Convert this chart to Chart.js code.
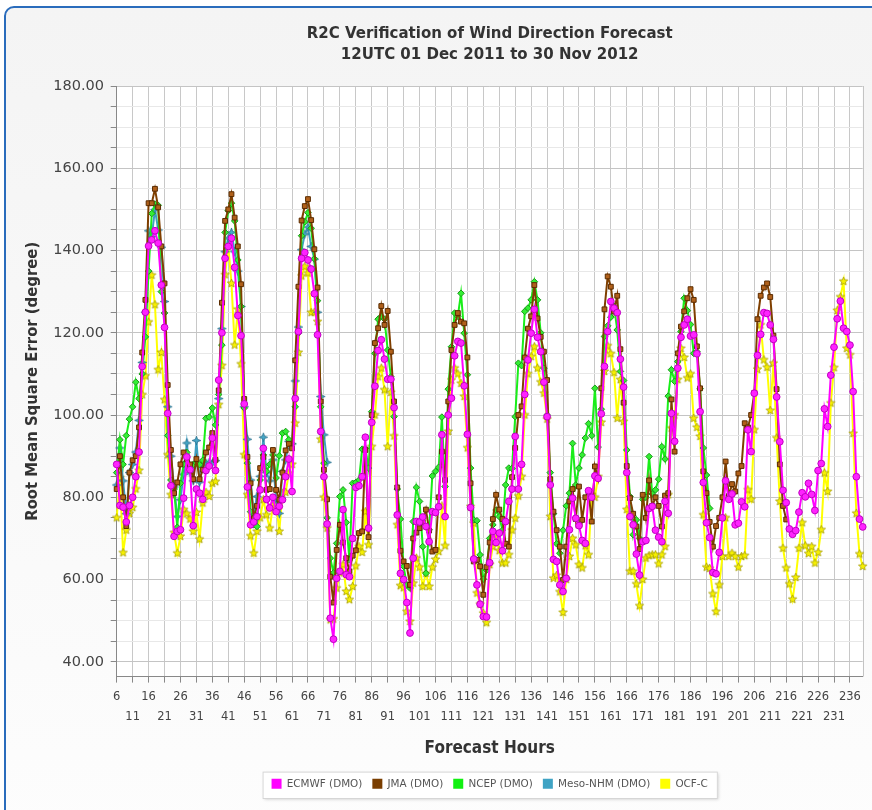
<!DOCTYPE html>
<html>
<head>
<meta charset="utf-8">
<title>R2C Verification of Wind Direction Forecast</title>
<script src="https://cdn.jsdelivr.net/npm/chart.js@4.4.0/dist/chart.umd.min.js"></script>
<style>
    html, body { margin: 0; padding: 0; background: #fff; }
    #wrap { position: relative; width: 872px; height: 810px; overflow: hidden; }
    #frame {
        position: absolute; left: 4px; top: 6px; width: 900px; height: 840px;
        border: 2px solid #2a6cbc; border-radius: 10px;
        background: linear-gradient(#f4f4f4, #fdfdfd);
    }
    #chart { position: absolute; left: 0; top: 0; }
</style>
</head>
<body>
<div id="wrap">
    <div id="frame"></div>
    <canvas id="chart" width="872" height="810"></canvas>
</div>
<script>
// Forecast hours 6..240 (one category per hour)
const hours = Array.from({ length: 235 }, (_, i) => 6 + i);

// Y axis ticks: every 5, labelled every 20
const yTicks = [40, 45, 50, 55, 60, 65, 70, 75, 80, 85, 90, 95, 100, 105, 110, 115, 120,
    125, 130, 135, 140, 145, 150, 155, 160, 165, 170, 175, 180];

// ECMWF (DMO), hours 6..240
const ecmwf = [
    88, 78, 77.6, 74, 78, 80, 85, 91, 111.8, 125,
    141.1, 142.6, 144.8, 141.8, 131.6, 121.3, 100.4, 82.8, 70.5, 71.7,
    72.1, 79.8, 89.8, 86.7, 73.1, 82, 81, 79.5, 86.5, 87.6,
    94.4, 86.5, 108.5, 120, 138.1, 141, 143, 135.9, 124.2, 119.3,
    102.7, 82.5, 73.3, 74, 75.3, 81.8, 91.9, 79.5, 77.4, 80,
    76.5, 77.8, 79.4, 85, 89.3, 81.4, 104, 120.3, 138.1, 139.5,
    137.7, 135.5, 129.5, 119.5, 96, 85, 73.5, 50.6, 45.5, 60.3,
    62, 77, 61.2, 60.7, 70, 82.4, 82.8, 85, 94.6, 72.5,
    98.2, 107, 115.7, 118.3, 113.6, 108.7, 108.7, 101.8, 75.7, 61.5,
    60, 54.4, 47, 65.2, 74.1, 74, 75.2, 72.9, 69.2, 76.5,
    76.3, 77.7, 95.2, 75.3, 100, 104.1, 114.4, 117.9, 117.5, 107.1,
    95.3, 77.5, 65, 58.7, 54, 51, 50.9, 64.1, 71.7, 69,
    71.3, 67, 74.1, 79, 82, 94.8, 82, 88, 105, 113.4,
    119.9, 125.7, 118.9, 115.4, 108, 99.6, 83, 64.9, 64.4, 58.7,
    57.1, 60.3, 72.1, 79.8, 74.9, 73.1, 69.5, 68.8, 81.6, 80,
    85.2, 84.6, 100.3, 111.8, 120.3, 127.6, 126, 124.9, 113.6, 106.8,
    86, 75.3, 73.3, 66.2, 61.1, 69.2, 69.5, 77.3, 77.8, 72,
    70.3, 69.2, 79, 76.1, 100.4, 93.6, 111.4, 118.9, 121.9, 123.3,
    119.2, 119.5, 114.9, 100.8, 83.6, 73.8, 70.2, 61.7, 61.4, 66.6,
    75, 84, 79.5, 80.8, 73.3, 73.7, 78.9, 77.7, 96.4, 91.1,
    105.3, 114.5, 119.6, 124.9, 124.7, 121.9, 118.4, 104.4, 93.5, 81.7,
    78.7, 72.3, 71, 71.9, 76.4, 81.1, 80.1, 83.4, 80.7, 76.8,
    86.5, 88.2, 101.5, 97.2, 109.7, 116.5, 123.4, 127.7, 121.1, 120.3,
    117, 105.7, 85, 74.7, 72.8
];

// JMA (DMO), hours 6..216
const jma = [
    82, 90, 80, 73, 86, 89, 90, 97, 115.2, 128,
    151.5, 151.5, 155, 150.5, 141, 132, 107.3, 91.5, 81, 83.6,
    88, 90.9, 89.3, 88, 84.4, 89.3, 84.4, 86.7, 90.9, 92.1,
    95.6, 89.1, 106, 127.3, 147.2, 150, 153.7, 148, 141, 131.8,
    103.9, 89.8, 83.4, 74.9, 77.9, 87.1, 89.8, 81.8, 82, 91.5,
    81.8, 79.4, 86, 91.4, 93, 91.9, 113.3, 131.2, 147.3, 150.8,
    152.5, 147.4, 140.3, 131, 103.3, 86.7, 79.5, 60.7, 54.4, 67.2,
    73.3, 69, 65.2, 62, 65.8, 67.1, 71.3, 71.7, 91.5, 70.3,
    100, 117.5, 121.1, 126.5, 121.9, 125.3, 115.4, 103.3, 82.4, 67,
    64.4, 63.3, 58.7, 70, 71.4, 72.5, 73.9, 77, 71.9, 66.8,
    67.2, 80, 91.1, 84.2, 103.3, 115.8, 121.9, 124.8, 122.7, 122.3,
    114, 83.4, 64.4, 64.8, 63.2, 56.3, 63, 69, 74.7, 80.6,
    77, 74.7, 68.7, 68, 84.9, 92, 100, 102.1, 114, 121,
    124, 131.6, 123.5, 119, 115.4, 108.5, 84.4, 76.5, 72, 68,
    59.9, 68, 79, 82, 74.7, 82.6, 74.5, 80, 81.4, 74.1,
    87.5, 84.6, 106.5, 125.7, 133.7, 131.2, 125.2, 129, 116, 103,
    87.6, 79.8, 76, 72.9, 67.4, 80.6, 75, 84.1, 77.9, 80,
    77.9, 72.9, 80.4, 81, 103.8, 91.1, 115, 121.5, 125.2, 128.4,
    130.6, 128, 116.7, 106.5, 86.3, 81, 74, 68, 73, 75,
    80, 88.7, 80.3, 83.2, 81.4, 85.8, 87.6, 98, 97, 100,
    105.4, 123.3, 129, 131, 132, 128.7, 119.3, 106.3, 88, 77.9,
    74.6
];

// NCEP (DMO), hours 6..192
const ncep = [
    86, 94, 88, 95, 99, 102, 108, 104, 110, 119,
    135, 149, 151.3, 151, 130, 124.8, 95, 84.2, 82, 72.7,
    83.4, 88, 90.9, 87.5, 88, 88.3, 87.9, 89, 99.2, 99.5,
    101.7, 97.6, 105, 117, 144.4, 149.7, 151.5, 147.2, 137.7, 126.4,
    101.7, 88.3, 76.5, 73.3, 72.9, 84.2, 90.3, 86.3, 88, 90.3,
    84.7, 90.1, 95.6, 96, 94, 93, 102, 119.9, 143.6, 147,
    149.2, 145.4, 138, 127.8, 102, 88.3, 75, 65.2, 61.6, 68.8,
    80.2, 81.8, 73.9, 64.8, 83.4, 83.6, 84.2, 91.7, 91.9, 87.1,
    100.8, 115, 123.3, 124, 123.3, 115.8, 109.3, 99.6, 82, 74.7,
    63.2, 58.7, 57.9, 74.1, 82.4, 79, 68, 61.5, 72.1, 85.2,
    86.3, 87.3, 99.5, 82.6, 106.3, 116.6, 124.8, 124, 129.6, 119.9,
    109.8, 87.1, 74.5, 74.3, 66, 60.1, 62.3, 70, 73.3, 76.9,
    75.3, 72, 83, 87.1, 87, 99.6, 112.6, 112, 125.2, 126,
    128, 132.4, 128, 120, 111.4, 100, 86, 76, 68.7, 66.4,
    72, 77.9, 81, 93.1, 83, 87.1, 90.3, 94.4, 97.9, 95,
    106.5, 92.2, 101.4, 119.1, 121.7, 123.8, 126.4, 120.7, 110.6, 108.4,
    91.5, 80.2, 70.9, 74.5, 70, 79.5, 80, 89.9, 80.8, 81.8,
    84.4, 92.3, 89.3, 104.6, 111, 108.2, 113, 120.3, 128.4, 125.4,
    122, 115, 115.4, 106.4, 92, 85.4, 77.3
];

// Meso-NHM (DMO), hours 6..72
const meso = [
    83, 92, 84, 76, 86, 88, 91, 98.7, 112.8, 125,
    144.8, 143.4, 150, 145, 140.8, 127.6, 102, 90, 82.5, 75.3,
    79.4, 85.6, 93.2, 86, 84, 93.8, 83.7, 87.9, 88.3, 88.5,
    88.3, 88.9, 104, 121, 139.7, 143, 144.4, 139.7, 135, 126.4,
    102, 94.1, 84.2, 76.1, 80.2, 85.1, 94.6, 86, 84, 89.1,
    79.4, 76.1, 86.3, 89.1, 93.6, 93, 108.3, 121.4, 140.2, 144,
    145.7, 141, 137.9, 125, 104.5, 95.2, 88.5
];

// OCF-C, hours 6..240
const ocfc = [
    75, 84.8, 66.5, 72, 76, 77.5, 82, 86.5, 104.9, 109.5,
    122.6, 134, 126.8, 111, 115.2, 103.7, 90.3, 80.6, 71.4, 66.4,
    70.5, 77, 76, 74.7, 71.7, 76.3, 69.8, 78.6, 81.2, 80.2,
    83.4, 83.8, 102.5, 112, 134.1, 141.1, 132, 117, 125.7, 112.4,
    90.3, 80.6, 70.6, 66.4, 71.7, 75, 79.4, 75.7, 72.5, 78,
    78.6, 71.7, 81, 81.2, 85.9, 88, 98, 115.2, 133.8, 136.1,
    134.5, 124.9, 125, 122.7, 94.1, 80, 72.5, 50.2, 50.4, 57.9,
    61.6, 63.6, 57.1, 55.1, 58.3, 63.3, 68, 66.6, 76.5, 68.4,
    92.3, 100, 109.3, 111.4, 106.1, 92.3, 105.5, 94.9, 73.3, 58.5,
    58, 52.2, 49.8, 59.1, 65.2, 63, 58.3, 61.5, 58.3, 63,
    64.9, 66.8, 77.9, 68.2, 96, 108.5, 111.4, 110, 107.7, 104.5,
    92, 77.7, 73.7, 56.7, 54, 51.8, 49.5, 63.6, 68, 70,
    67, 64, 64, 66, 72, 74.9, 80.3, 85, 100, 110,
    114.2, 116.6, 111.4, 108, 105.3, 99, 75.3, 60.3, 61, 57,
    52, 60, 65.6, 70, 68.4, 63.6, 62.8, 68.2, 66, 80.6,
    80, 85, 98.2, 110.6, 116.8, 114.9, 110.3, 99.2, 108.6, 98.4,
    77, 62, 62, 58.9, 53.6, 60, 65.2, 65.8, 66, 66,
    63.8, 66, 68, 80.6, 96.8, 100, 108.6, 116.2, 114, 109,
    110, 99.2, 97, 94.8, 75.7, 63, 62.7, 56.5, 52.2, 58.7,
    65.6, 75, 65.6, 66.4, 65.6, 63, 65.6, 65.8, 81.8, 79.5,
    96.4, 111.1, 121.9, 113.4, 111.6, 101.1, 112.6, 94.4, 79, 67.6,
    62.8, 58.9, 55.2, 60.5, 67.6, 73.8, 68.2, 66.3, 68, 64,
    66.6, 72.1, 85.9, 81.4, 102.9, 111.5, 125.4, 128.7, 132.5, 116.2,
    114.6, 95.5, 76.1, 66.2, 63.2
];

const seriesNames = ['ECMWF (DMO)', 'JMA (DMO)', 'NCEP (DMO)', 'Meso-NHM (DMO)', 'OCF-C'];
const legendColors = ['#ff00ff', '#7a3e00', '#11f011', '#3fa3c4', '#ffff00'];

Chart.defaults.font.family = "'DejaVu Sans', Verdana, sans-serif";
Chart.defaults.color = '#444';

const titleFont = "'DejaVu Sans', Verdana, sans-serif";
const axisTitleFont = "'DejaVu Sans Condensed', 'DejaVu Sans', sans-serif";

// small star shaped markers
function makeStar(points, outer, inner, fill, stroke) {
    const size = Math.ceil(outer * 2 + 2);
    const c = document.createElement('canvas');
    c.width = c.height = size;
    const g = c.getContext('2d');
    g.translate(size / 2, size / 2);
    g.beginPath();
    for (let i = 0; i < points * 2; i++) {
        const r = i % 2 ? inner : outer;
        const a = -Math.PI / 2 + i * Math.PI / points;
        g.lineTo(r * Math.cos(a), r * Math.sin(a));
    }
    g.closePath();
    g.fillStyle = fill;
    g.fill();
    g.strokeStyle = stroke;
    g.lineWidth = 0.8;
    g.stroke();
    return c;
}

const starYellow = makeStar(5, 4.4, 2, '#f6f000', '#a39a00');
const starTeal = makeStar(4, 4.4, 1.6, '#45a8c8', '#2a6e8c');

// white plot area, right edge and the framed legend
const backdrop = {
    id: 'backdrop',
    beforeDraw(chart) {
        const { ctx, chartArea: a, legend } = chart;
        ctx.save();
        ctx.fillStyle = '#ffffff';
        ctx.fillRect(a.left, a.top, a.right - a.left, a.bottom - a.top);
        const boxes = legend.legendHitBoxes;
        if (boxes && boxes.length) {
            const l = Math.min(...boxes.map(b => b.left)) - 9;
            const r = Math.max(...boxes.map(b => b.left + b.width)) + 10;
            const t = boxes[0].top - 7;
            const b = boxes[0].top + boxes[0].height + 10;
            ctx.shadowColor = 'rgba(0, 0, 0, 0.18)';
            ctx.shadowBlur = 3;
            ctx.shadowOffsetX = 1;
            ctx.shadowOffsetY = 1;
            ctx.fillStyle = '#ffffff';
            ctx.fillRect(l, t, r - l, b - t);
            ctx.shadowColor = 'transparent';
            ctx.strokeStyle = '#d6d6d6';
            ctx.lineWidth = 1;
            ctx.strokeRect(l + 0.5, t + 0.5, r - l - 1, b - t - 1);
        }
        ctx.restore();
    },
    beforeDatasetsDraw(chart) {
        const { ctx, chartArea: a } = chart;
        ctx.save();
        ctx.strokeStyle = '#c4c4c4';
        ctx.lineWidth = 1;
        ctx.beginPath();
        ctx.moveTo(Math.round(a.right) + 0.5, a.top);
        ctx.lineTo(Math.round(a.right) + 0.5, a.bottom);
        ctx.stroke();
        ctx.restore();
    }
};

function line(label, data, color, extra) {
    return Object.assign({
        label: label,
        data: data,
        borderColor: color,
        backgroundColor: color,
        borderWidth: 2,
        tension: 0,
        pointRadius: 3.2,
        pointBorderWidth: 1
    }, extra);
}

new Chart(document.getElementById('chart'), {
    type: 'line',
    data: {
        labels: hours,
        datasets: [
            line(seriesNames[0], ecmwf, '#ff00ff', {
                pointStyle: 'circle', pointRadius: 3.4,
                pointBackgroundColor: '#ff22ff', pointBorderColor: '#c000c0'
            }),
            line(seriesNames[1], jma, '#7f3f00', {
                pointStyle: 'rect', pointRadius: 3.4,
                pointBackgroundColor: '#b0601a', pointBorderColor: '#5a2c00'
            }),
            line(seriesNames[2], ncep, '#19ee19', {
                pointStyle: 'rectRot', pointRadius: 3.3,
                pointBackgroundColor: '#33ee33', pointBorderColor: '#1a9a1a'
            }),
            line(seriesNames[3], meso, '#3e9fc0', {
                pointStyle: starTeal
            }),
            line(seriesNames[4], ocfc, '#ffff00', {
                pointStyle: starYellow
            })
        ]
    },
    options: {
        responsive: false,
        animation: false,
        layout: { padding: { top: 0, left: 0, right: 9.3, bottom: 11 } },
        plugins: {
            title: {
                display: true,
                fullSize: false,
                text: ['R2C Verification of Wind Direction Forecast', '12UTC 01 Dec 2011 to 30 Nov 2012'],
                color: '#333',
                font: { family: titleFont, size: 15, weight: 'bold', lineHeight: 1.4 },
                padding: { top: 23.5, bottom: 20.5 }
            },
            legend: {
                position: 'bottom',
                fullSize: false,
                labels: {
                    boxWidth: 10,
                    boxHeight: 10,
                    padding: 10,
                    color: '#555',
                    font: { size: 10.4 },
                    generateLabels: chart => Chart.defaults.plugins.legend.labels.generateLabels(chart).map(l =>
                        Object.assign(l, {
                            fillStyle: legendColors[l.datasetIndex],
                            strokeStyle: legendColors[l.datasetIndex],
                            lineWidth: 0
                        }))
                }
            },
            tooltip: { enabled: false }
        },
        scales: {
            x: {
                type: 'category',
                ticks: {
                    autoSkip: false,
                    maxRotation: 0,
                    minRotation: 0,
                    padding: 4.7,
                    color: '#444',
                    font: { size: 11.5, lineHeight: '20px' },
                    callback: (value, index) => {
                        const h = hours[index];
                        if ((h - 6) % 5 !== 0) return '';
                        return ((h - 6) / 5) % 2 === 0 ? String(h) : ['', String(h)];
                    }
                },
                grid: {
                    color: c => (c.index % 5 === 0 ? '#c8c8c8' : 'rgba(0,0,0,0)'),
                    tickColor: c => (c.index % 5 === 0 ? '#888' : 'rgba(0,0,0,0)'),
                    tickLength: 6
                },
                border: { color: '#888', width: 1 },
                title: {
                    display: true,
                    text: 'Forecast Hours',
                    color: '#333',
                    font: { family: axisTitleFont, size: 17, weight: 'bold' },
                    padding: { top: 0, bottom: 9.8 }
                },
                afterFit: s => { s.height = 92; }
            },
            y: {
                min: 36.4,
                max: 180,
                afterBuildTicks: s => { s.ticks = yTicks.map(v => ({ value: v })); },
                ticks: {
                    autoSkip: false,
                    padding: 6.7,
                    color: '#444',
                    font: { size: 14.5 },
                    callback: v => (v % 20 === 0 ? v.toFixed(2) : '')
                },
                grid: {
                    color: c => (c.tick && c.tick.value % 20 === 0 ? '#c4c4c4' : '#e8e8e8'),
                    tickColor: '#888',
                    tickLength: 6
                },
                border: { color: '#888', width: 1 },
                title: {
                    display: true,
                    text: 'Root Mean Square Error (degree)',
                    color: '#333',
                    font: { family: axisTitleFont, size: 16.5, weight: 'bold' },
                    padding: { top: 23.1, bottom: 0 }
                },
                afterFit: s => { s.width = 116.7; }
            }
        }
    },
    plugins: [backdrop]
});
</script>
</body>
</html>
